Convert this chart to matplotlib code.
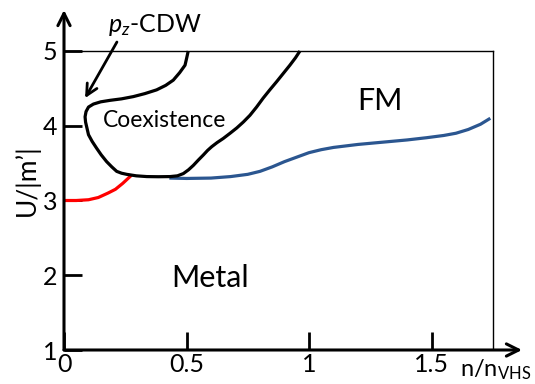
import matplotlib
matplotlib.use("Agg")
from matplotlib import pyplot as plt

plt.rcParams['font.family'] = ['Lato', 'DejaVu Sans']
plt.rcParams['mathtext.fontset'] = 'custom'
plt.rcParams['mathtext.rm'] = 'Lato'
plt.rcParams['mathtext.it'] = 'Lato:italic'

# phase boundaries (n/n_VHS, U/|m'|)
red_x = [0.0, 0.05, 0.10, 0.14, 0.18, 0.21, 0.24, 0.276]
red_y = [3.0, 3.0, 3.01, 3.04, 3.10, 3.15, 3.23, 3.34]

coex_x = [0.507, 0.501, 0.494, 0.472, 0.446, 0.415, 0.378, 0.33, 0.283, 0.235, 0.188,
          0.15, 0.12, 0.10, 0.09, 0.086, 0.088, 0.10, 0.115, 0.133, 0.152, 0.174,
          0.195, 0.215, 0.235, 0.256, 0.295, 0.338, 0.385, 0.433, 0.463, 0.487, 0.508,
          0.528, 0.548, 0.569, 0.586, 0.603, 0.625, 0.65, 0.678, 0.705, 0.732, 0.759,
          0.786, 0.813, 0.84, 0.868, 0.895, 0.922, 0.945, 0.963]
coex_y = [5.0, 4.91, 4.81, 4.71, 4.61, 4.54, 4.48, 4.43, 4.39, 4.36, 4.34,
          4.32, 4.29, 4.25, 4.19, 4.12, 4.05, 3.88, 3.79, 3.70, 3.61, 3.52,
          3.45, 3.39, 3.365, 3.35, 3.33, 3.32, 3.318, 3.32, 3.33, 3.36, 3.41,
          3.47, 3.54, 3.61, 3.67, 3.72, 3.775, 3.83, 3.90, 3.97, 4.05, 4.14,
          4.25, 4.37, 4.48, 4.59, 4.70, 4.81, 4.91, 5.0]

fm_x = [0.43, 0.5, 0.6, 0.68, 0.75, 0.8, 0.85, 0.9, 0.95, 1.0, 1.05, 1.1, 1.2, 1.3,
        1.4, 1.48, 1.55, 1.6, 1.65, 1.7, 1.74]
fm_y = [3.30, 3.295, 3.30, 3.32, 3.35, 3.39, 3.45, 3.52, 3.58, 3.64, 3.68, 3.71, 3.75,
        3.78, 3.81, 3.84, 3.87, 3.90, 3.95, 4.02, 4.10]

xticks = [0, 0.5, 1, 1.5]
xtick_labels = ['0', '0.5', '1', '1.5']
yticks = [1, 2, 3, 4, 5]

fig = plt.figure(figsize=(5.35, 3.84), dpi=100)
ax = fig.add_axes([64 / 535, 34 / 384, 458 / 535, 340 / 384])
ax.set_xlim(0, 458 / 245)
ax.set_ylim(1, 1 + 340 / 74.75)
for s in ax.spines.values():
    s.set_visible(False)

# axes with arrow heads
ax.annotate('', xy=(458 / 245, 1), xytext=(0, 1), annotation_clip=False,
            arrowprops=dict(arrowstyle='->', lw=2.2, color='black', mutation_scale=22,
                            shrinkA=0, shrinkB=0))
ax.annotate('', xy=(0, 1 + 340 / 74.75), xytext=(0, 1), annotation_clip=False,
            arrowprops=dict(arrowstyle='->', lw=2.2, color='black', mutation_scale=22,
                            shrinkA=0, shrinkB=0))

# thin frame at U=5 and n=1.75
ax.plot([0, 1.75], [5, 5], color='black', lw=1.0)
ax.plot([1.75, 1.75], [1, 5], color='black', lw=1.0)

ax.set_xticks(xticks)
ax.set_xticklabels(xtick_labels)
ax.set_yticks(yticks)
ax.tick_params(direction='in', length=13, width=2, labelsize=18, color='black')
ax.tick_params(axis='y', pad=5)
ax.tick_params(axis='x', pad=2)
ax.set_ylabel("U/|m\u2019|", fontsize=19, labelpad=2)

ax.plot(red_x, red_y, color='#ff0000', lw=2.3, solid_capstyle='butt')
ax.plot(fm_x, fm_y, color='#2b5690', lw=2.3, solid_capstyle='butt')
ax.plot(coex_x, coex_y, color='black', lw=2.3, solid_capstyle='butt')

ax.text(0.41, 3.98, 'Coexistence', fontsize=16.5, ha='center', va='baseline')
ax.text(1.29, 4.21, 'FM', fontsize=22, ha='center', va='baseline')
ax.text(0.596, 1.84, 'Metal', fontsize=22, ha='center', va='baseline')
ax.text(0.37, 5.25, r'$p_z$-CDW', fontsize=18, ha='center', va='baseline')
ax.annotate('', xy=(0.086, 4.37), xytext=(0.216, 5.12), annotation_clip=False,
            arrowprops=dict(arrowstyle='->', lw=2, color='black', mutation_scale=20,
                            shrinkA=0, shrinkB=0))
fig.text(460 / 535, 1 - 370 / 384, r'n/n$_{\mathrm{VHS}}$', fontsize=17, ha='left', va='center')

fig.savefig('out.png', dpi=100)
